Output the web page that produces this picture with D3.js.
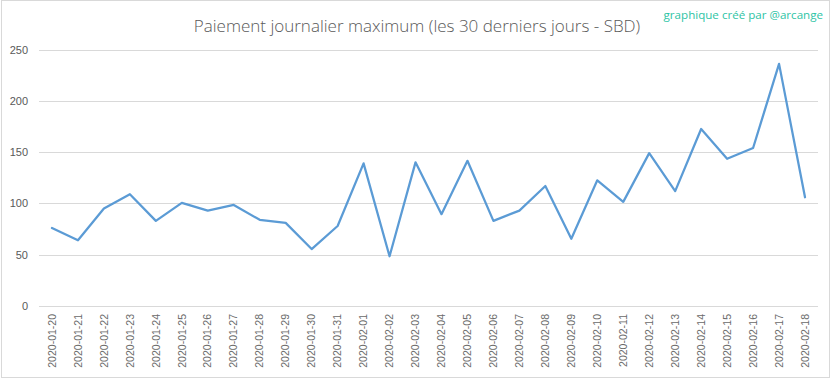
<!DOCTYPE html>
<html><head><meta charset="utf-8">
<script src="https://cdn.jsdelivr.net/npm/d3@7"></script>
<style>body{margin:0;background:#fff}svg{display:block}</style>
</head><body><svg id="c" width="833" height="379"></svg>
<script>
const dates = ["2020-01-20","2020-01-21","2020-01-22","2020-01-23","2020-01-24","2020-01-25","2020-01-26","2020-01-27","2020-01-28","2020-01-29","2020-01-30","2020-01-31","2020-02-01","2020-02-02","2020-02-03","2020-02-04","2020-02-05","2020-02-06","2020-02-07","2020-02-08","2020-02-09","2020-02-10","2020-02-11","2020-02-12","2020-02-13","2020-02-14","2020-02-15","2020-02-16","2020-02-17","2020-02-18"];
const values = [76,64,95,109,83,100.5,93,98.5,84,81,55.5,78,139,48.5,140,89.5,141.5,83,93,117,65.5,122.5,101.5,149,112,172.5,143.5,154,236,106];
const yTicks = [0,50,100,150,200,250];
const titleText = "Paiement journalier maximum (les 30 derniers jours - SBD)";
const creditText = "graphique créé par @arcange";

const svg = d3.select("#c");
svg.append("rect").attr("x",1.5).attr("y",0.5).attr("width",828).attr("height",377)
  .attr("fill","#fff").attr("stroke","#d9d9d9");

const x = d3.scaleBand().domain(dates).range([39,818]);
const y = d3.scaleLinear().domain([0,250]).range([306,49.5]);

// gridlines
svg.append("g").selectAll("line").data(yTicks).join("line")
  .attr("x1",39).attr("x2",818)
  .attr("y1",d=>Math.round(y(d))+0.5).attr("y2",d=>Math.round(y(d))+0.5)
  .attr("stroke","#d9d9d9").attr("stroke-width",1);

// y axis labels
const yAxis = d3.axisLeft(y).tickValues(yTicks).tickSize(0).tickPadding(0);
const gy = svg.append("g").attr("transform","translate(28,0)").call(yAxis);
gy.select(".domain").remove();
gy.selectAll("text").attr("fill","#595959").style("font-family","'Liberation Sans',Arial,sans-serif").style("font-size","11px");

// x axis labels
const xAxis = d3.axisBottom(x).tickSize(0).tickPadding(0);
const gx = svg.append("g").attr("transform","translate(0,314)").call(xAxis);
gx.select(".domain").remove();
gx.selectAll("text")
  .attr("transform","rotate(-90)")
  .attr("x",0).attr("y",0).attr("dy","0.35em")
  .attr("text-anchor","end")
  .attr("fill","#6a6a6a")
  .style("font-family","'Liberation Sans',Arial,sans-serif").style("font-size","10.5px");

// line
const line = d3.line().x((d,i)=>x(dates[i])+x.bandwidth()/2).y(d=>y(d));
svg.append("path").datum(values).attr("d",line)
  .attr("fill","none").attr("stroke","#5b9bd5").attr("stroke-width",2.25)
  .attr("stroke-linejoin","round").attr("stroke-linecap","round");

// title
svg.append("text").attr("x",417).attr("y",32).attr("text-anchor","middle")
  .attr("fill","#595959").style("font-family","'Open Sans',sans-serif").style("font-weight","300")
  .style("font-size","17px").text(titleText);

svg.append("text").attr("x",823).attr("y",19).attr("text-anchor","end")
  .attr("fill","#2ec4a5").style("font-family","'Open Sans',sans-serif")
  .style("font-size","11.6px").text(creditText);
</script></body></html>
